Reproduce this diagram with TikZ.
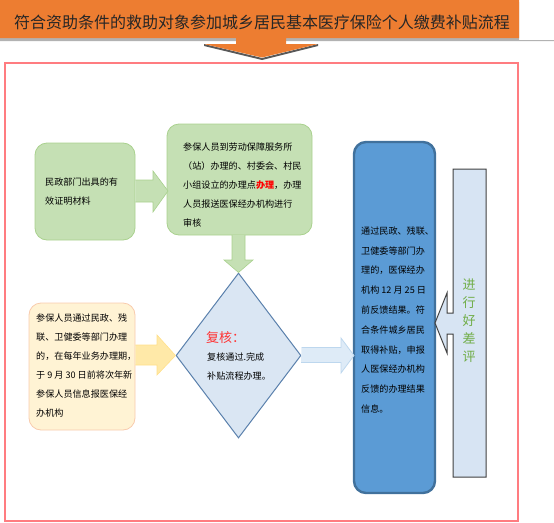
\documentclass[tikz,border=0pt]{standalone}
\usepackage{fontspec}
\newfontfamily\cjk{Noto Sans CJK SC}
\usetikzlibrary{shapes.geometric}
\definecolor{titleor}{HTML}{ED7D31}
\definecolor{frame}{HTML}{FF7C80}
\definecolor{gfill}{HTML}{C5E0B4}
\definecolor{gline}{HTML}{A9D18E}
\definecolor{yfill}{HTML}{FFF3D4}
\definecolor{yline}{HTML}{F8CBAD}
\definecolor{yarr}{HTML}{FFE9A8}
\definecolor{yarrl}{HTML}{FFE08A}
\definecolor{dfill}{HTML}{DAE6F3}
\definecolor{dline}{HTML}{5A80AC}
\definecolor{barr}{HTML}{DEEBF7}
\definecolor{barrl}{HTML}{BDD7EE}
\definecolor{bfill}{HTML}{5B9BD5}
\definecolor{bline}{HTML}{41719C}
\definecolor{cfill}{HTML}{D7E4F3}
\definecolor{cline}{HTML}{404040}
\definecolor{gtext}{HTML}{70AD47}
\definecolor{rtext}{HTML}{FF3333}
\tikzset{
  gbox/.style={draw=gline, fill=gfill, line width=0.8pt, rounded corners=12pt, inner sep=0pt},
  ybox/.style={draw=yline, fill=yfill, line width=0.8pt, rounded corners=12pt, inner sep=0pt},
  bbox/.style={draw=bline, fill=bfill, line width=2.4pt, rounded corners=12pt, inner sep=0pt},
  txt/.style={anchor=west, align=left, inner sep=0pt, text=black, font={\cjk\fontsize{9.1}{19}\selectfont}},
  garrow/.style={fill=gfill, draw=gline, line width=0.6pt},
  yarrow/.style={fill=yarr, draw=yarrl, line width=0.6pt},
  barrow/.style={fill=barr, draw=barrl, line width=0.8pt},
}
\begin{document}
\begin{tikzpicture}[x=1pt,y=-1pt]
\useasboundingbox (0,0) rectangle (554,522);
% title banner shadow
\fill[gray!60] (0,2) -- (519,2) -- (519,40) -- (554,40) -- (554,41) -- (0,41) -- cycle;
\fill[gray!70!black] (204,46) -- (262,60) -- (318,46) -- (318,44) -- (262,58) -- (204,44) -- cycle;
% title banner
\fill[titleor] (0,0) -- (519,0) -- (519,38) -- (286,38) -- (286,44) -- (318,44)
  -- (262,57.5) -- (204,44) -- (236,44) -- (236,38) -- (0,38) -- cycle;
\node[inner sep=0pt, text={black!85}, font={\cjk\fontsize{16}{18}\selectfont}] (title) at (262,22.5)
  {符合资助条件的救助对象参加城乡居民基本医疗保险个人缴费补贴流程};
% frame
\draw[frame, line width=1.2pt] (5,63) rectangle (518,521);

% boxes
\node[gbox, minimum width=100pt, minimum height=97pt] (b1) at (85,191.5) {};
\node[txt] (b1t) at (45,192) {\fontsize{9.1}{18}\selectfont 民政部门出具的有\\效证明材料};

\node[gbox, minimum width=145pt, minimum height=111pt] (b2) at (239.5,179.5) {};
\node[txt] (b2t) at (183,185) {参保人员到劳动保障服务所\\（站）办理的、村委会、村民\\小组设立的办理点{\color{red}\bfseries 办理}，办理\\人员报送医保经办机构进行\\审核};

\node[ybox, minimum width=106pt, minimum height=127pt] (b3) at (82,366.5) {};
\node[txt] (b3t) at (36,366) {参保人员通过民政、残\\联、卫健委等部门办理\\的，在每年业务办理期，\\于 9 月 30 日前将次年新\\参保人员信息报医保经\\办机构};

\node[diamond, draw=dline, fill=dfill, line width=1pt, inner sep=0pt,
  minimum width=125pt, minimum height=165pt] (d) at (238.5,355.5) {};
\node[anchor=west, inner sep=0pt, text=rtext, font={\cjk\fontsize{13}{15}\selectfont}] (dt1) at (206,338) {复核：};
\node[txt] (dt2) at (207,366.5) {复核通过.完成\\补贴流程办理。};

\node[bbox, minimum width=81pt, minimum height=351pt] (b4) at (394.5,317.5) {};
\node[txt, font={\cjk\fontsize{9.1}{19.8}\selectfont}] (b4t) at (361,320) {通过民政、残联、\\卫健委等部门办\\理的，医保经办\\机构 12 月 25 日\\前反馈结果。符\\合条件城乡居民\\取得补贴，申报\\人医保经办机构\\反馈的办理结果\\信息。};

% block arrows
\draw[garrow] (b1.east |- 0,180) -- (153,180) -- (153,171) -- (168,191) -- (153,212) -- (153,202) -- (b1.east |- 0,202);
\draw[garrow] (232,235) -- (232,260) -- (224,260) -- (d.north) -- (253,260) -- (245,260) -- (245,235);
\draw[yarrow] (b3.east |- 0,345) -- (157,345) -- (157,335) -- (d.west) -- (157,375) -- (157,365) -- (b3.east |- 0,365);
\draw[barrow] (d.east |- 0,347.5) -- (341,347.5) -- (341,338) -- (354,355.5) -- (341,373) -- (341,362.5) -- (301,362.5);

% callout
\draw[cline, fill=cfill, line width=1pt, line join=miter] (453,169) -- (453,313) -- (447,313) -- (447,293) -- (435,323)
  -- (447,353) -- (447,334) -- (453,334) -- (453,477) -- (486,477) -- (486,169) -- cycle;
\node[inner sep=0pt, align=center, text=gtext, font={\cjk\fontsize{13}{18}\selectfont}] (ct) at (469,321) {进\\行\\好\\差\\评};
\end{tikzpicture}
\end{document}
